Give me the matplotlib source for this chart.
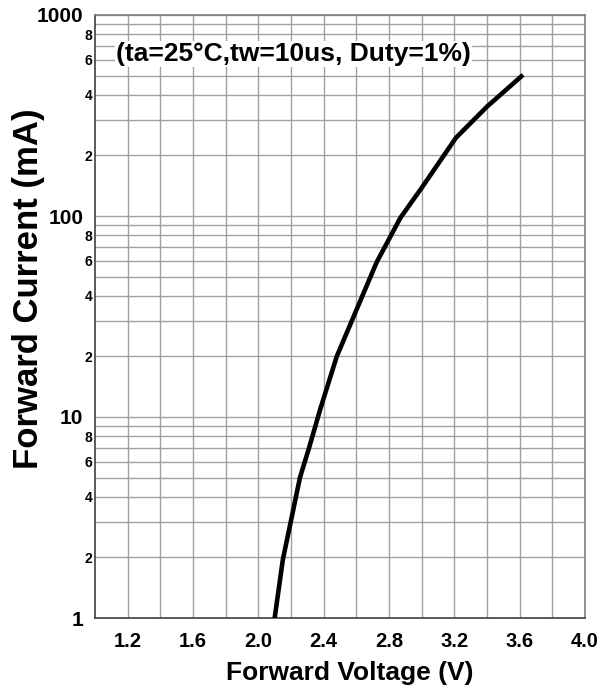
import numpy as np
import matplotlib.pyplot as plt

# ------- dane -------
voltage = [2.10, 2.15, 2.255, 2.31, 2.38, 2.48, 2.60, 2.725, 2.87, 3.00, 3.21, 3.40, 3.61]
current = [1.0, 1.95, 5.0, 7.0, 11.0, 20.0, 34.0, 59.0, 98.0, 138.0, 245.0, 350.0, 495.0]

x_ticks = [1.2, 1.6, 2.0, 2.4, 2.8, 3.2, 3.6, 4.0]
y_major = [1, 10, 100, 1000]
y_major_labels = ['1', '10', '100', '1000']
y_minor = [m * d for d in (1, 10, 100) for m in range(2, 10)]
y_minor_labels = [str(m) if m in (2, 4, 6, 8) else '' for d in (1, 10, 100) for m in range(2, 10)]

note = '(ta=25°C,tw=10us, Duty=1%)'

plt.rcParams['font.family'] = ['Liberation Sans', 'DejaVu Sans']
plt.rcParams['font.weight'] = 'bold'

fig = plt.figure(figsize=(6.02, 6.89), dpi=100)
ax = fig.add_axes([95 / 602, 1 - 618 / 689, 490 / 602, 603 / 689])

ax.plot(voltage, current, color='black', lw=3.3, solid_joinstyle='miter', zorder=5)

ax.set_xlim(1.0, 4.0)
ax.set_yscale('log')
ax.set_ylim(1, 1000)

ax.set_xticks(x_ticks)
ax.set_xticklabels([f'{v:.1f}' for v in x_ticks], fontsize=14.5, fontweight='bold')
ax.set_xticks(np.arange(1.2, 4.0, 0.2), minor=True)

ax.set_yticks(y_major)
ax.set_yticklabels(y_major_labels, fontsize=15, fontweight='bold')
ax.set_yticks(y_minor, minor=True)
ax.set_yticklabels(y_minor_labels, minor=True, fontsize=10, fontweight='bold')

ax.tick_params(axis='y', which='major', length=0, pad=8.5)
ax.tick_params(axis='y', which='minor', length=0, pad=2)
ax.tick_params(axis='x', which='both', length=0, pad=10)

ax.grid(True, which='both', color='#a0a0a0', lw=1.0)
ax.set_axisbelow(True)

for side in ['top', 'right']:
    ax.spines[side].set_color('#808080')
for side in ['left', 'bottom']:
    ax.spines[side].set_color('#404040')
for s in ax.spines.values():
    s.set_linewidth(1.2)

ax.text(1.13, 640, note, fontsize=19, fontweight='bold', va='center', ha='left',
        bbox=dict(facecolor='white', edgecolor='none', pad=1.0), zorder=4)

fig.text(350 / 602, 1 - 680 / 689, 'Forward Voltage (V)', fontsize=19, fontweight='bold',
         ha='center', va='baseline')
fig.text(29 / 602, 1 - 289 / 689, 'Forward Current (mA)', fontsize=25, fontweight='bold',
         ha='center', va='center', rotation=90)

fig.savefig('out.png', dpi=100)
